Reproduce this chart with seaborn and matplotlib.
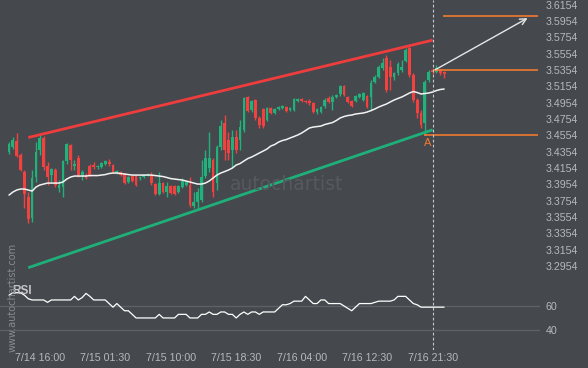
import numpy as np
import pandas as pd
import matplotlib
matplotlib.use('Agg')
import matplotlib.pyplot as plt
import seaborn as sns

# 30 min candles
bar_open = [3.4351, 3.4411, 3.4485, 3.4314, 3.4106, 3.3799, 3.3542, 3.4044, 3.4375, 3.4522,
            3.4179, 3.4069, 3.4130, 3.3909, 3.3922, 3.4240, 3.4436, 3.4179, 3.4277, 3.4057,
            3.4069, 3.4179, 3.4191, 3.4167, 3.4167, 3.4203, 3.4228, 3.4191, 3.4093, 3.4106,
            3.4081, 3.3983, 3.4057, 3.4057, 3.4031, 3.4044, 3.4069, 3.4069, 3.3958, 3.3836,
            3.3971, 3.3860, 3.3934, 3.3934, 3.3860, 3.3922, 3.3946, 3.3946, 3.3689, 3.3738,
            3.3762, 3.4057, 3.4155, 3.4252, 3.3971, 3.4411, 3.4705, 3.4497, 3.4375, 3.4534,
            3.4497, 3.4620, 3.5024, 3.4864, 3.4987, 3.4766, 3.4877, 3.4742, 3.4889, 3.4828,
            3.4877, 3.4889, 3.4901, 3.4864, 3.4864, 3.4975, 3.4999, 3.4975, 3.4975, 3.4950,
            3.4840, 3.4840, 3.4913, 3.5011, 3.4962, 3.5024, 3.5060, 3.5158, 3.5024, 3.4975,
            3.4975, 3.5024, 3.4987, 3.5036, 3.5024, 3.5207, 3.5268, 3.5379, 3.5501, 3.5391,
            3.5268, 3.5317, 3.5354, 3.5464, 3.5624, 3.5293, 3.4987, 3.4828, 3.4705, 3.5232,
            3.5354, 3.5330, 3.5354, 3.5330]
bar_high = [3.4473, 3.4534, 3.4583, 3.4338, 3.4130, 3.3860, 3.4130, 3.4473, 3.4559, 3.4546,
            3.4228, 3.4155, 3.4155, 3.4007, 3.4252, 3.4460, 3.4448, 3.4252, 3.4314, 3.4130,
            3.4093, 3.4203, 3.4228, 3.4191, 3.4228, 3.4252, 3.4265, 3.4203, 3.4130, 3.4118,
            3.4093, 3.4057, 3.4069, 3.4069, 3.4057, 3.4081, 3.4093, 3.4106, 3.3971, 3.4106,
            3.3983, 3.3983, 3.3946, 3.3946, 3.3946, 3.4031, 3.3995, 3.4044, 3.3860, 3.3909,
            3.4252, 3.4375, 3.4595, 3.4277, 3.4436, 3.4742, 3.4803, 3.4595, 3.4620, 3.4620,
            3.4742, 3.5024, 3.5036, 3.4987, 3.4999, 3.4791, 3.4889, 3.4901, 3.4901, 3.4889,
            3.4913, 3.4926, 3.4913, 3.4901, 3.5011, 3.5011, 3.5011, 3.4987, 3.4999, 3.4962,
            3.4889, 3.4913, 3.5011, 3.5036, 3.5048, 3.5060, 3.5170, 3.5170, 3.5036, 3.4987,
            3.5048, 3.5072, 3.5085, 3.5048, 3.5232, 3.5293, 3.5415, 3.5501, 3.5538, 3.5477,
            3.5330, 3.5452, 3.5477, 3.5624, 3.5648, 3.5317, 3.5011, 3.4864, 3.5232, 3.5354,
            3.5379, 3.5415, 3.5366, 3.5342]
bar_low = [3.4326, 3.4387, 3.4289, 3.4118, 3.3664, 3.3480, 3.3493, 3.3983, 3.4314, 3.4130,
           3.3946, 3.3983, 3.3922, 3.3860, 3.3799, 3.4203, 3.4130, 3.4130, 3.4044, 3.4007,
           3.4020, 3.4057, 3.4142, 3.4142, 3.4155, 3.4191, 3.4179, 3.4093, 3.4081, 3.4057,
           3.3958, 3.3971, 3.3983, 3.3934, 3.4007, 3.4031, 3.4057, 3.3946, 3.3824, 3.3824,
           3.3848, 3.3799, 3.3836, 3.3824, 3.3848, 3.3909, 3.3934, 3.3676, 3.3664, 3.3652,
           3.3738, 3.4031, 3.4106, 3.3799, 3.3885, 3.4375, 3.4252, 3.4252, 3.4167, 3.4338,
           3.4375, 3.4595, 3.4840, 3.4840, 3.4742, 3.4644, 3.4644, 3.4730, 3.4815, 3.4815,
           3.4864, 3.4877, 3.4840, 3.4852, 3.4852, 3.4962, 3.4962, 3.4950, 3.4926, 3.4828,
           3.4815, 3.4828, 3.4889, 3.4950, 3.4864, 3.5011, 3.5036, 3.5036, 3.4950, 3.4901,
           3.4962, 3.5011, 3.4975, 3.4889, 3.4852, 3.5195, 3.5256, 3.5354, 3.5085, 3.5109,
           3.5232, 3.5293, 3.5330, 3.5452, 3.5268, 3.4962, 3.4766, 3.4644, 3.4554, 3.5207,
           3.5305, 3.5317, 3.5293, 3.5256]
bar_close = [3.4448, 3.4497, 3.4302, 3.4130, 3.3836, 3.3530, 3.4031, 3.4351, 3.4522, 3.4167,
             3.4044, 3.4142, 3.3946, 3.3946, 3.4240, 3.4448, 3.4252, 3.4203, 3.4069, 3.4106,
             3.4031, 3.4069, 3.4167, 3.4179, 3.4216, 3.4240, 3.4203, 3.4106, 3.4118, 3.4069,
             3.3971, 3.4044, 3.3995, 3.3946, 3.4044, 3.4069, 3.4081, 3.3971, 3.3836, 3.3971,
             3.3860, 3.3934, 3.3848, 3.3836, 3.3934, 3.3995, 3.3983, 3.3701, 3.3738, 3.3860,
             3.4044, 3.4277, 3.4277, 3.3860, 3.4411, 3.4669, 3.4375, 3.4338, 3.4534, 3.4375,
             3.4656, 3.5011, 3.4852, 3.4975, 3.4766, 3.4681, 3.4669, 3.4889, 3.4828, 3.4877,
             3.4901, 3.4913, 3.4852, 3.4889, 3.4999, 3.4999, 3.4975, 3.4962, 3.4950, 3.4840,
             3.4877, 3.4901, 3.4987, 3.4962, 3.5024, 3.5048, 3.5158, 3.5048, 3.4962, 3.4913,
             3.5036, 3.5060, 3.5072, 3.4901, 3.5195, 3.5268, 3.5391, 3.5440, 3.5109, 3.5268,
             3.5317, 3.5428, 3.5391, 3.5599, 3.5293, 3.4987, 3.4828, 3.4681, 3.5207, 3.5330,
             3.5330, 3.5379, 3.5317, 3.5305]

# white moving average
ma_line = [3.3823, 3.3860, 3.3885, 3.3897, 3.3897, 3.3885, 3.3872, 3.3921, 3.3946, 3.3958,
           3.3970, 3.3970, 3.3970, 3.3970, 3.3983, 3.4019, 3.4044, 3.4056, 3.4056, 3.4056,
           3.4056, 3.4062, 3.4062, 3.4062, 3.4068, 3.4074, 3.4087, 3.4093, 3.4093, 3.4087,
           3.4081, 3.4074, 3.4068, 3.4068, 3.4068, 3.4068, 3.4068, 3.4068, 3.4062, 3.4056,
           3.4050, 3.4038, 3.4025, 3.4019, 3.4013, 3.4007, 3.3995, 3.3983, 3.3970, 3.3958,
           3.3958, 3.3970, 3.3995, 3.4032, 3.4068, 3.4093, 3.4111, 3.4130, 3.4154, 3.4191,
           3.4209, 3.4240, 3.4270, 3.4289, 3.4313, 3.4338, 3.4362, 3.4387, 3.4424, 3.4442,
           3.4472, 3.4491, 3.4503, 3.4522, 3.4540, 3.4559, 3.4583, 3.4613, 3.4644, 3.4656,
           3.4662, 3.4668, 3.4687, 3.4699, 3.4711, 3.4736, 3.4767, 3.4785, 3.4797, 3.4803,
           3.4816, 3.4822, 3.4828, 3.4840, 3.4858, 3.4877, 3.4901, 3.4920, 3.4938, 3.4963,
           3.4987, 3.5006, 3.5024, 3.5048, 3.5073, 3.5091, 3.5079, 3.5061, 3.5067, 3.5073,
           3.5085, 3.5103, 3.5116, 3.5122]

rsi_line = [69, 71, 71, 71, 69, 66, 65, 65, 65, 65,
            63, 65, 65, 65, 65, 65, 65, 68, 65, 67,
            70.5, 68, 65, 65, 65, 65, 62, 59, 62, 59,
            56, 56, 53, 50, 50, 50, 50, 50, 50, 53,
            50, 50, 50, 50, 53, 53, 53, 50, 50, 50,
            53, 53, 55, 53, 53, 55, 55, 53, 53, 50,
            53, 55, 53, 55, 55, 53, 55, 55, 55, 55,
            58, 61, 61, 62, 64, 64, 64, 68, 65, 62,
            62, 65, 65, 62, 62, 62, 62, 60, 58, 56,
            59, 62, 62, 62, 62, 63, 64, 64, 64, 64,
            65, 68, 68, 68, 65, 62, 61, 59, 59, 59,
            59, 59, 59, 59]

# channel (bar, price)
chan_bars = [5, 110]
chan_upper = [3.4528, 3.5720]
chan_lower = [3.2934, 3.4622]

now_bar = 110
point_a = (108, 3.4554)
level_target = 3.6010
level_now = 3.5354
level_a = 3.4554
arrow_from = (110.1, 3.5342)
arrow_to = (135.3, 3.6007)

price_ticks = [3.6154, 3.5954, 3.5754, 3.5554, 3.5354, 3.5154, 3.4954, 3.4754, 3.4554,
               3.4354, 3.4154, 3.3954, 3.3754, 3.3554, 3.3354, 3.3154, 3.2954]
time_ticks = [8, 25, 42, 59, 76, 93, 110]
time_labels = ['7/14 16:00', '7/15 01:30', '7/15 10:00', '7/15 18:30',
               '7/16 04:00', '7/16 12:30', '7/16 21:30']

bg = '#45484d'
up_col = '#21b27b'
down_col = '#f2413f'
orange = '#f07a30'
txt_col = '#b6b8bb'

sns.set_style('dark', {'axes.facecolor': bg, 'figure.facecolor': bg})
plt.rcParams['font.family'] = ['Liberation Sans', 'DejaVu Sans']

df = pd.DataFrame({'open': bar_open, 'high': bar_high, 'low': bar_low,
                   'close': bar_close, 'ma': ma_line, 'rsi': rsi_line})
df['bar'] = np.arange(len(df))

fig = plt.figure(figsize=(5.88, 3.68), dpi=100)
ax = fig.add_axes([0, 1 - 272 / 368, 540 / 588, 272 / 368])
ax_rsi = fig.add_axes([0, 1 - 350 / 368, 540 / 588, 78 / 368], sharex=ax)

# watermark
fig.text(287 / 588, 1 - 184 / 368, 'autochartist', ha='center', va='center',
         fontsize=13.5, color='#56595e', family='DejaVu Sans')
fig.text(13 / 588, 1 - 297 / 368, 'www.autochartist.com', rotation=90, ha='center',
         va='center', fontsize=7, color='#888a8e', family='DejaVu Sans')

# candles
up = df['close'] >= df['open']
colors = np.where(up, up_col, down_col)
ax.vlines(df['bar'], df['low'], df['high'], colors=colors, lw=1)
body = (df['close'] - df['open']).abs().clip(lower=0.0008)
ax.bar(df['bar'], body, bottom=df[['open', 'close']].min(axis=1), width=0.72,
       color=colors, linewidth=0)

sns.lineplot(data=df, x='bar', y='ma', ax=ax, color='#f2f2f2', lw=1.1)
ax.plot(chan_bars, chan_upper, color='#ef3d3d', lw=2, solid_capstyle='butt')
ax.plot(chan_bars, chan_lower, color='#1fb07a', lw=2, solid_capstyle='butt')

# forecast levels
ax.hlines(level_target, 112.7, 137.3, color=orange, lw=1.2)
ax.hlines(level_now, 110.1, 137.3, color=orange, lw=1.2)
ax.hlines(level_a, 107.8, 137.3, color=orange, lw=1.2)
ax.annotate('', xy=arrow_to, xytext=arrow_from,
            arrowprops=dict(arrowstyle='->', color='#e6e6e6', lw=1, mutation_scale=11))
ax.annotate('A', point_a, xytext=(2, -2), textcoords='offset points', ha='center',
            va='top', color=orange, fontsize=8)

ax.axvline(now_bar, color='#c8c9cc', ls=(0, (2.5, 2)), lw=0.8)
ax_rsi.axvline(now_bar, color='#c8c9cc', ls=(0, (2.5, 2)), lw=0.8)

ax.set_xlim(-2.34, 137.9)
ax.set_ylim(3.2881, 3.6212)
ax.yaxis.tick_right()
ax.set_yticks(price_ticks)
ax.set_yticklabels([f'{t:.4f}' for t in price_ticks])
ax.tick_params(axis='y', length=0, pad=4, labelcolor=txt_col, labelsize=7.7)
ax.tick_params(axis='x', length=0, labelbottom=False)
ax.set_xlabel('')
ax.set_ylabel('')
ax.grid(False)
for s in ax.spines.values():
    s.set_visible(False)

# RSI panel
ax_rsi.axhline(60, color='#5d6064', lw=1)
ax_rsi.axhline(40, color='#5d6064', lw=1)
sns.lineplot(data=df, x='bar', y='rsi', ax=ax_rsi, color='white', lw=0.9)
ax_rsi.text(12 / 540, 0.756, 'RSI', transform=ax_rsi.transAxes, ha='left', va='center',
            fontsize=8.5, fontweight='bold', color='#c4c5c8')
ax_rsi.set_ylim(23.3, 88.3)
ax_rsi.yaxis.tick_right()
ax_rsi.set_yticks([60, 40])
ax_rsi.set_yticklabels(['60', '40'])
ax_rsi.set_xticks(time_ticks)
ax_rsi.set_xticklabels(time_labels)
ax_rsi.tick_params(axis='y', length=0, pad=4, labelcolor=txt_col, labelsize=7.7)
ax_rsi.tick_params(axis='x', length=0, pad=2, labelcolor=txt_col, labelsize=7.7)
ax_rsi.set_xlabel('')
ax_rsi.set_ylabel('')
ax_rsi.grid(False)
for s in ax_rsi.spines.values():
    s.set_visible(False)

fig.savefig('out.png', dpi=100, facecolor=bg)
